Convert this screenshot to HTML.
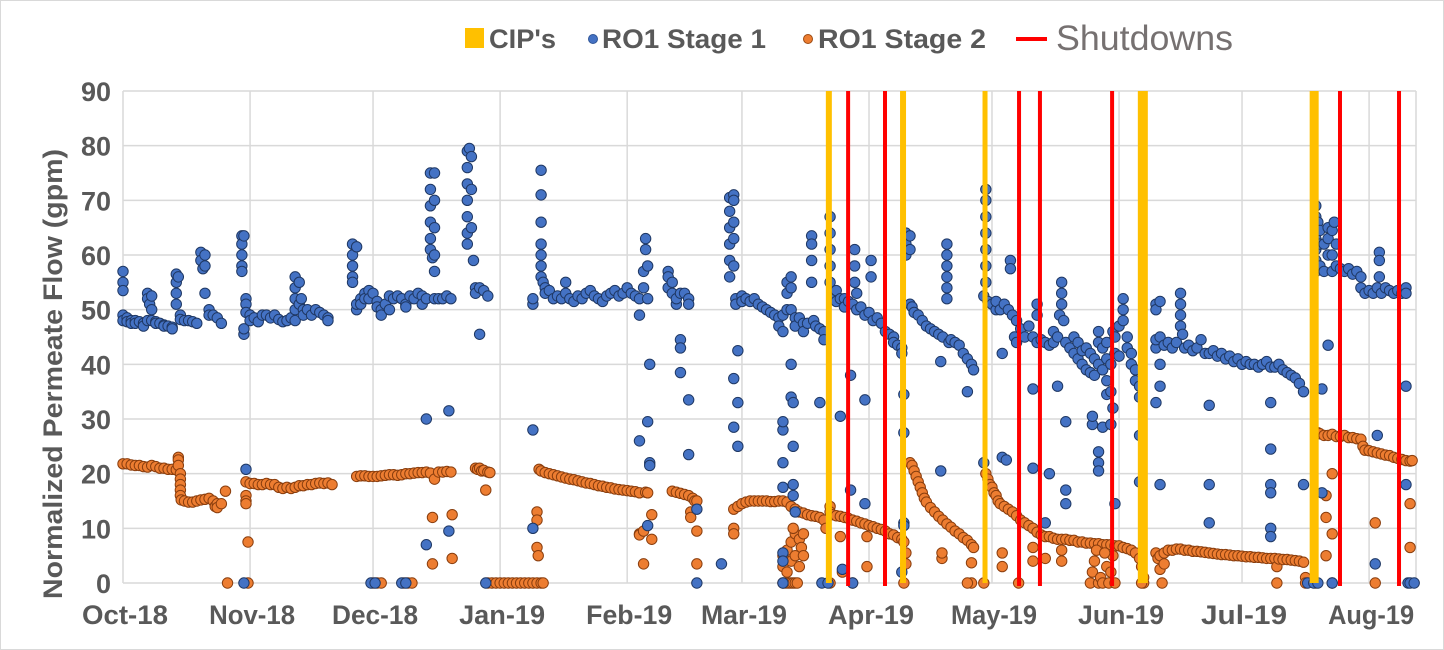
<!DOCTYPE html>
<html><head><meta charset="utf-8">
<style>
html,body{margin:0;padding:0;background:#fff;}
#wrap{position:relative;width:1444px;height:650px;overflow:hidden;font-family:"Liberation Sans",Arial,sans-serif;}
svg{position:absolute;left:0;top:0;}
</style></head>
<body>
<div id="wrap">
<svg id="chart" width="1444" height="650">
  <rect x="0.5" y="0.5" width="1443" height="649" fill="#fff" stroke="#d9d9d9"/>
  <g id="grid"></g>
  <g id="s2"></g>
  <g id="s1"></g>
  <g id="vlines"></g>
  <g id="axes"></g>
  <text x="62" y="374" transform="rotate(-90 62 374)" text-anchor="middle" font-size="27" font-weight="bold" fill="#595959" textLength="450" lengthAdjust="spacingAndGlyphs" font-family="Liberation Sans, sans-serif">Normalized Permeate Flow (gpm)</text>
  <g>
    <g>
      <rect x="465" y="28" width="19" height="20" fill="#FFC000"/>
      <text x="489" y="48" font-size="27" font-weight="bold" fill="#595959" textLength="67" lengthAdjust="spacingAndGlyphs" font-family="Liberation Sans, sans-serif">CIP's</text>
    </g>
    <g>
      <circle cx="593" cy="39" r="4.5" fill="#4472C4" stroke="#2F5597"/>
      <text x="602" y="48" font-size="27" font-weight="bold" fill="#595959" textLength="164" lengthAdjust="spacingAndGlyphs" font-family="Liberation Sans, sans-serif">RO1 Stage 1</text>
    </g>
    <g>
      <circle cx="808" cy="39" r="4.5" fill="#ED7D31" stroke="#9C4A12"/>
      <text x="818" y="48" font-size="27" font-weight="bold" fill="#595959" textLength="168" lengthAdjust="spacingAndGlyphs" font-family="Liberation Sans, sans-serif">RO1 Stage 2</text>
    </g>
    <g>
      <line x1="1016" y1="39" x2="1047" y2="39" stroke="#FF0000" stroke-width="4"/>
      <text x="1056" y="50" font-size="35" fill="#767171" textLength="177" lengthAdjust="spacingAndGlyphs" font-family="Liberation Sans, sans-serif">Shutdowns</text>
    </g>
  </g>
</svg>
</div>
<script>
const yTicks=[0,10,20,30,40,50,60,70,80,90];
const monthLabels=["Oct-18","Nov-18","Dec-18","Jan-19","Feb-19","Mar-19","Apr-19","May-19","Jun-19","Jul-19","Aug-19"];
const monthDays=[0,31,61,92,123,151,182,212,243,273,304];
const cipDays=[172.2,190.3,210.3,248.8,290.6];
const cipWidths=[6,6,5,10,9];
const shutdownDays=[176.9,185.9,218.6,223.7,241.3,296.9,311.3];
const stage1=[[0,57],[0,55],[0,53.5],[0,49],[0,48],[1,48.5],[1,47.8],[2,48],[2,47.5],[3,48],[3,47.5],[4,47.8],[5,47.5],[5,47],[6,48],[6,53],[6,52],[6.5,51],[7,52.5],[7,50],[7,48],[8,47.8],[8,47.5],[9,47.5],[10,47.2],[10,47],[11,47],[12,46.8],[12,46.5],[13,56.5],[13,55],[13,53],[13,51],[13.5,56],[14,49],[14,48.2],[15,48],[16,48],[17,47.8],[18,47.5],[19,60.5],[19,59],[19.5,57.5],[20,60],[20,58],[20,53],[21,50],[21,49],[22,49],[23,48.5],[24,47.5],
[29,63.5],[29,62],[29,60],[29,58],[29,57],[29.5,63.5],[29.5,45.5],[29.5,46.5],[30,52],[30,51],[30,49.5],[31,49],[31,48],[32,48.5],[33,47.8],[34,49],[35,49],[36,48.5],[37,49],[38,48.2],[39,47.8],[40,48],[41,48.5],[42,56],[42,54],[42,52],[42,50],[42,48],[43,55],[43,51],[43.5,52],[44,50],[44,49],[45,50],[46,49],[47,50],[48,49.5],[49,49],[50,48.5],[50,48],[30,20.8],[29.5,0],
[56,62],[56,60],[56,58],[56,56],[56,55],[57,61.5],[57,50],[57,51],[58,52],[58,51],[59,53],[59,52],[60,53.5],[60,52],[61,53],[62,51.5],[62,50.5],[63,50],[63,49],[64,51],[65,52.5],[65,50],[66,52],[67,52.5],[68,52],[69,51],[69,50.5],[70,52.5],[71,52],[72,53],[73,52.5],[73,51],[74,52],[75,75],[75,72],[75,69],[75,66],[75,63],[75,61],[75.5,59.5],[76,75],[76,70],[76,65],[76,60],[76,57],[76,52],[77,52],[78,52],[79,52.5],[80,52],[60.5,0],[61.5,0],[68,0],[69,0],[74,30],[74,7],[79.5,31.5],[79.5,9.5],
[84,79],[84,76],[84,73],[84,70],[84,67],[84,64],[84,62],[84.5,79.5],[85,78],[85,72],[85,65],[85.5,59],[86,54],[86,53],[87,54],[87,45.5],[88,53.5],[89,52.5],[88.5,0],
[100,51],[100,52],[100,28],[100,10],[102,75.5],[102,71],[102,66],[102,62],[102,60],[102,58],[102,56],[102.5,55],[103,54],[103,53],[104,53.5],[105,52],[106,52.5],[107,52],[108,55],[108,53],[109,52],[110,51.5],[111,52.5],[112,52],[113,53],[114,53.5],[115,52.5],[116,52],[117,51.5],[118,52.5],[119,53],[120,53.5],[121,52.5],[122,53],[123,54],[124,53],[125,52.5],[126,52],[126,49],[126,26],[127,57],[127,54],[127.5,63],[127.5,61],[128,58],[128,52],[128,29.5],[128.5,40],[128.5,22],[128.5,21.5],[128,10.5],
[133,57],[133,56],[133,54],[134,55],[134,53],[135,51],[135,52],[136,53],[137,53],[138,52],[138,51],[136,44.5],[136,43],[136,38.5],[138,33.5],[138,23.5],[140,13.5],[140,0],
[146,3.5],[148,70.5],[148,68],[148,65],[148,62],[148,59],[148,56],[149,71],[149,70],[149,66],[149,63],[149,58],[149.5,52],[149.5,51],[149,28.5],[149,37.4],[150,42.5],[150,33],[150,25],[151,52.5],[151,51.5],[152,52],[153,51.5],[154,52],[155,51],[156,50.5],[157,50],[158,49.5],[159,49],[160,48.5],[160,47],[161,46],[161,49],[161,28],[161,29.5],[161,22],[161,17.5],[162,55],[162,53],[162,50],[163,56],[163,54],[163,50],[163,40],[163,34],[163.5,33],[163.5,25],[164,48.5],[164,47],[165,48.5],[166,47.5],[166,46],[167,47.5],[168,63.5],[168,62],[168,59],[168,55],[168.5,48],[169,47],[170,46.5],[170,33],[171,46],[171,44.5],[161,5.5],[161,4],[161,0],[163.5,18],[163.5,16],[164,13],
[172.5,67],[172.5,64],[172.5,61],[172.5,58],[172.5,55],[173,53],[173,52],[174,53.5],[174,51.5],[175,52],[175,30.5],[176,52],[176,50.5],[177,51.5],[177.5,38],[177.5,17],[178,51],[178.5,61],[178.5,58],[178.5,55],[179,53],[179,50],[180,50.5],[181,49],[181,33.5],[181,14.5],[182,49.5],[182.5,59],[182.5,56],[183,48],[184,48.5],[185,47.5],[186,46],[187,45.5],[188,45],[188,44],[189,43.5],[190,43],[190,42],[170.5,0],[172,0],[175.5,2.5],[178,0],
[191,64],[191,62],[191,60],[192,63.5],[192,61],[192,51],[192.5,50.5],[193,49.5],[194,49],[195,48],[196,47],[197,46.5],[198,46],[199,45.5],[199.5,40.5],[199.5,20.5],[200,45],[201,62],[201,60],[201,58],[201,56],[201,54],[201,52],[201.5,44],[202,44.5],[203,44],[204,43.5],[205,42],[206,41],[206,35],[207,40],[207.5,39],[190.5,34.5],[190.5,27.5],[190.5,11],[190.5,10.5],[190,2],
[210.5,72],[210.5,70],[210.5,67],[210.5,64],[210.5,61],[210.5,58],[210.5,55],[210,52.5],[210,22],[211,51.5],[212,51],[213,50],[213,51.5],[214,50],[214.5,42],[214.5,23],[215,51],[215.5,22.5],[216,50],[216.5,59],[216.5,57.5],[217,49],[217.5,45],[218,44],[218,48],[219,46.5],[220,45],[221,47],[222,45],[222,35.5],[222,21],[223,51],[223,49],[223,44],[224,44.5],[225,44],[225,11],[226,43.5],[226,20],[227,46],[227,44],[228,45],[228,36],[228.5,49],[229,55],[229,53],[229,51],[229.5,48],[230,44],[230,29.5],[230,17],[230,14.5],[231,43],[232,45],[232,42],[233,41],[233,44],[234,40],[234,42.5],[235,39],[235,43],[236,38.5],[236,42],[236.5,29],[236.5,30.5],[237,41],[237,38],[238,40],[238,46],[238,44],[238,24],[238,22],[238,20.5],[239,43],[239,39],[239,28.5],[240,41],[240,44],[240,37],[240,34.5],[241,40],[241,35],[241,29],[241.5,46],[241.5,32],[242,45],[242,42],[242,14.5],[243,47],[243,41.5],[244,52],[244,50],[244,48],[245,45],[245,43],[246,42],[246,40],[247,39],[247,37],[248,36],[248,34],[248,27],[248,18.5],
[252,51],[252,50],[252,43],[252,44.5],[252,33],[253,51.5],[253,45],[253,40],[253,36],[253,18],[254,43.5],[255,44],[256,43],[257,44],[258,53],[258,51],[258,49],[258,47],[258.5,45.5],[259,43],[260,43.5],[261,42.5],[262,43],[263,44.5],[264,42],[265,42],[265,32.5],[265,18],[265,11],[266,42.5],[267,41.5],[268,42],[269,41],[270,41.5],[271,40.5],[272,41],[273,40],[274,40.5],[275,40],[276,40],[277,39.5],[278,40],[279,40.5],[280,39.5],[280,33],[280,24.5],[280,18],[280,16.5],[280,10],[280,8.5],[281,39.5],[282,40],[283,39],[284,38.5],[285,38],[286,37.5],[287,36.5],[288,35],[288,18],[289,0],
[291,69],[291,67],[291,65],[291,63],[291,61],[291,59],[291,57],[291.5,66],[292,64.5],[292,62],[292,58],[292.5,35.5],[292.5,16.5],[293,62],[293,57],[294,65],[294,63],[294,60],[294,43.5],[295,64.5],[295,60],[295,57],[295.5,66],[296,62],[296,58],[297,57.5],[298,57],[299,57.5],[300,56.5],[301,57],[302,56],[302,54],[303,53],[304,53.5],[305,53],[306,54],[306.5,60.5],[306.5,59],[306.5,56],[307,53],[308,54],[309,53.5],[310,53],[311,53.5],[312,53],[313,54],[313,53],[313,36],[313,18],[313.5,0],[314,0],[315,0],[305.5,3.5],[306,27],[290.5,0],[291.5,0],[295,0]];
const stage2=[[0,21.8],[1,21.8],[2,21.6],[3,21.5],[4,21.5],[5,21.3],[6,21.2],[7,21.5],[8,21.3],[9,21],[10,21],[11,20.8],[12,20.8],[13,20.7],[13.5,23],[13.5,22.5],[13.5,21.5],[14,20],[14,19],[14,18],[14,17],[14,16],[14.2,15.2],[15,15],[16,14.8],[17,14.8],[18,15],[19,15.2],[20,15.3],[21,15.5],[22,15],[22.5,14],[23,14.5],[23,13.8],[24,14.5],[25,16.8],[25.5,0],
[30,18.5],[30,16],[30,15],[30,14.5],[30.5,7.5],[30.5,0],[31,18.2],[32,18.2],[33,18],[34,18],[35,18.2],[36,18],[37,18],[38,17.5],[39,17.3],[40,17.5],[41,17.3],[42,17.5],[43,17.8],[44,17.8],[45,18],[46,18],[47,18.2],[48,18.3],[49,18.2],[50,18.3],[51,18],
[57,19.5],[58,19.6],[59,19.6],[60,19.5],[61,19.5],[62,19.5],[63,19.6],[64,19.7],[65,19.8],[66,19.8],[67,19.7],[68,19.8],[69,20],[70,20],[71,20.1],[72,20.2],[73,20.2],[74,20.3],[75,20.1],[75.5,12],[75.5,3.5],[76,19],[77,20.3],[78,20.3],[79,20.4],[80,20.3],[80.3,12.5],[80.3,4.5],[61,0],[62,0],[63,0],[68.5,0],[69.5,0],[70.5,0],
[86,21],[86.5,20.8],[87,21],[87.5,20.5],[88,20.6],[88.5,17],[89,20.3],[89.5,20.2],[89,0],[90,0],[91,0],[92,0],[93,0],[94,0],[95,0],[96,0],[97,0],[98,0],[99,0],[100,0],[101,0],[102,0],[102.5,0],
[101,13],[101,11.5],[101,6.5],[101.3,5],
[101.5,20.8],[102,20.5],[103,20.2],[104,20],[105,19.8],[106,19.6],[107,19.4],[108,19.2],[109,19],[110,18.9],[111,18.7],[112,18.5],[113,18.3],[114,18.2],[115,18],[116,17.8],[117,17.7],[118,17.5],[119,17.4],[120,17.2],[121,17.1],[122,17],[123,16.9],[124,16.8],[125,16.7],[126,16.5],[126,9],[126,8.8],[127,9.5],[127,3.5],[127.5,16.6],[128,16.5],[129,12.5],[129,8],
[134,16.8],[135,16.6],[136,16.4],[137,16.2],[138,16],[138.5,13],[138.5,12],[139,15.5],[139.5,15],[140,15],[140,9.5],[140,3.5],
[149,10],[149,9],[149,13.5],[150,14],[151,14.5],[152,14.8],[153,15],[154,15],[155,15],[156,15],[157,15],[158,14.9],[159,14.9],[160,15],[161,15],[162,14.8],[163,14],[164,13.5],[165,13],[166,12.8],[167,12.5],[168,12.3],[169,12.2],[170,12],[171,11.5],[171.5,10],
[161,0],[161.5,0],[162,0],[162.5,0],[163,0],[163.5,0],[164,0],[164.5,0],[161,3],[162,6],[162,2],[163,4],[163,7.5],[164,5],[164,9],[165,8],[165,3],[165.5,6.5],[166,9],[166,5],[163.5,10],[161,5],
[172.5,14],[172.5,13],[172.5,0],[173,12.5],[174,12.3],[175,12.2],[175,8.5],[175.5,2],[176,12],[177,11.8],[178,11.5],[178,0],[179,11.3],[180,11],[181,10.8],[181.5,3],[181.5,8.5],[182,10.5],[183,10.3],[184,10],[185,9.8],[186,9.5],[187,9],[188,8.8],[189,8.3],[190,8],[190.5,7.5],[190.5,0],[191,3.5],[191,5.5],
[192,22],[192.5,21.5],[193,20.5],[193.5,19.5],[194,18.5],[194.5,17.5],[195,16.5],[195.5,15.5],[196,14.8],[197,13.8],[198,13],[199,12.2],[200,11.5],[201,10.8],[202,10.2],[203,9.5],[204,9],[205,8.3],[206,7.8],[207,7],[207.5,6.5],[199.8,4.5],[199.8,5.5],[207,3.7],[207,0],[206,0],
[210.5,20],[211,19],[211.5,18],[212,17.5],[212.5,16.5],[213,16],[213.5,15],[214,14.5],[215,14],[216,13.5],[217,13],[218,12.3],[219,11.5],[220,11],[221,10.5],[222,10],[223,9.3],[224,8.8],[225,8.5],[226,8.5],[227,8.2],[228,8],[229,8],[230,8],[231,7.8],[232,7.8],[233,7.5],[234,7.5],[235,7.3],[236,7.3],[237,7.2],[238,7.2],[239,7],[240,7],[241,7],[242,6.8],[243,6.8],[244,6.5],[245,6.3],[246,6],[247,5.5],[248,4.5],[248.5,3],[249,1],[249,0],[248.5,0],
[210,0],[214.5,5.5],[214.5,3],[218.5,0],[222,4],[222,6.5],[229,4],[229,6],[225,4.5],[236,0],[236.5,2],[237,4],[237.5,6],[238,0],[238.5,1],[239,0],[240,3],[240.5,0],[241,2],[241.5,5],[242,0],[239.5,5.5],
[252,5.5],[252.5,4.5],[253,5],[253,2.5],[253.5,0],[254,3.5],[254,5.5],[255,6],[256,6],[257,6.2],[258,6.2],[259,6],[260,6],[261,5.8],[262,5.8],[263,5.7],[264,5.6],[265,5.5],[266,5.4],[267,5.3],[268,5.2],[269,5.2],[270,5.1],[271,5],[272,5],[273,4.9],[274,4.8],[275,4.8],[276,4.7],[277,4.7],[278,4.6],[279,4.5],[280,4.5],[281,4.5],[281.5,3],[281.5,0],[282,4.4],[283,4.3],[284,4.3],[285,4.2],[286,4.1],[287,4],[288,3.8],[288.5,1],[288.5,0],
[291.5,27.5],[292,27.3],[293,27],[294,27],[295,27.2],[296,26.8],[297,26.8],[298,27],[299,26.6],[300,26.6],[301,26.4],[302,26.3],[302.5,25],[303,24.3],[304,24.2],[305,24],[306,23.8],[307,23.6],[308,23.4],[309,23.3],[310,23],[311,22.8],[312,22.6],[313,22.4],[314,22.3],[314.5,22.4],
[293.5,16],[293.5,12],[293.5,5],[295,20],[295,9],[295,0],[305.5,11],[305.5,0],[314,14.5],[314,6.5],[291,0]];

const NS="http://www.w3.org/2000/svg";
const X0=123, PXD=4.099, XR=1416, Y0=583, YT=91, YMAX=90;
function xs(d){return X0+d*PXD;}
function ys(v){return Y0-(v/YMAX)*(Y0-YT);}
function mk(tag,attrs,parent){const e=document.createElementNS(NS,tag);for(const k in attrs)e.setAttribute(k,attrs[k]);parent.appendChild(e);return e;}
const grid=document.getElementById('grid'), axes=document.getElementById('axes'), vl=document.getElementById('vlines');
yTicks.forEach(t=>{
  const y=ys(t);
  const l=mk('line',{x1:X0,x2:XR,y1:y,y2:y,stroke:'#d9d9d9','stroke-width':1.5},grid);
  
  
  const tx=mk('text',{x:111,y:y+10,'text-anchor':'end','font-size':27,'font-weight':'bold',fill:'#595959','font-family':'Liberation Sans, sans-serif'},axes);
  tx.textContent=t;
  
  
});
monthDays.forEach((d,i)=>{
  const x=xs(d);
  const l=mk('line',{x1:x,x2:x,y1:YT,y2:Y0,stroke:'#d9d9d9','stroke-width':1.5},grid);
  
  
  const tx=mk('text',{x:x+2,y:624,'text-anchor':'middle','font-size':27,'font-weight':'bold',fill:'#595959','font-family':'Liberation Sans, sans-serif',textLength:86,lengthAdjust:'spacingAndGlyphs'},axes);
  tx.textContent=monthLabels[i];
  
  
});
const rl=mk('line',{x1:XR,x2:XR,y1:YT,y2:Y0,stroke:'#d9d9d9','stroke-width':1.5},grid);


cipDays.forEach((d,i)=>{
  const l=mk('line',{x1:xs(d),x2:xs(d),y1:YT,y2:Y0,stroke:'#FFC000','stroke-width':cipWidths[i]},vl);
  
  
});
shutdownDays.forEach(d=>{
  const l=mk('line',{x1:xs(d),x2:xs(d),y1:YT,y2:Y0+3,stroke:'#FF0000','stroke-width':4},vl);
  
  
});
const g2=document.getElementById('s2'), g1=document.getElementById('s1');
stage2.forEach(p=>{
  const c=mk('circle',{cx:xs(p[0]),cy:ys(p[1]),r:5.2,fill:'#ED7D31',stroke:'#8A3E0E','stroke-width':1},g2);
  
  
});
stage1.forEach(p=>{
  const c=mk('circle',{cx:xs(p[0]),cy:ys(p[1]),r:5.2,fill:'#4472C4',stroke:'#1F3864','stroke-width':1},g1);
  
  
});
</script>
</body></html>
